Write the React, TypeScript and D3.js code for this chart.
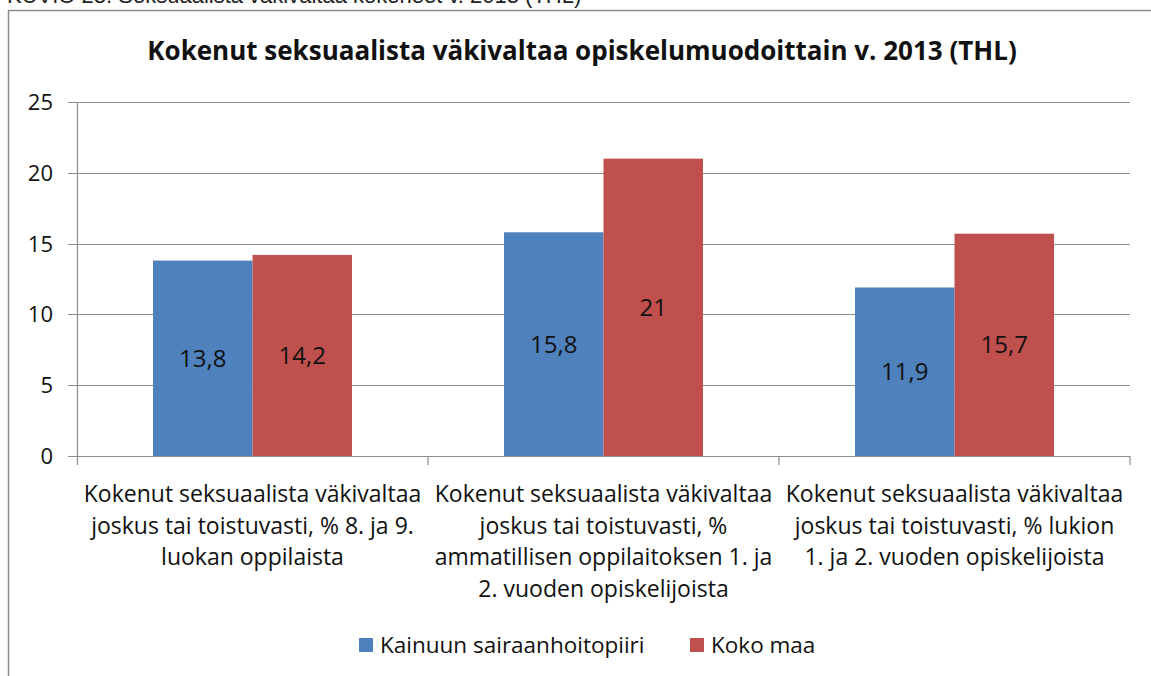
import React, { useEffect, useRef } from "react";
import * as d3 from "d3";

// chart data
const categories = [
  ["Kokenut seksuaalista väkivaltaa", "joskus tai toistuvasti, % 8. ja 9.", "luokan oppilaista"],
  ["Kokenut seksuaalista väkivaltaa", "joskus tai toistuvasti, %", "ammatillisen oppilaitoksen 1. ja", "2. vuoden opiskelijoista"],
  ["Kokenut seksuaalista väkivaltaa", "joskus tai toistuvasti, % lukion", "1. ja 2. vuoden opiskelijoista"],
];
const seriesNames = ["Kainuun sairaanhoitopiiri", "Koko maa"];
const kainuu = [13.8, 15.8, 11.9];
const kokoMaa = [14.2, 21, 15.7];
const yTicks = [0, 5, 10, 15, 20, 25];
const colors = ["#4F81BD", "#C0504D"];

const FONT = "'Open Sans', Lato, sans-serif";

export default function App() {
  const ref = useRef<SVGSVGElement>(null);

  useEffect(() => {
    const svg = d3.select(ref.current);
    svg.selectAll("*").remove();

    // caption above the chart frame (clipped at top in the source)
    svg.append("text")
      .attr("x", 7)
      .attr("y", 3)
      .attr("font-family", "'Liberation Sans', Arial, sans-serif")
      .attr("font-size", 22)
      .attr("fill", "#222")
      .text("KUVIO 23. Seksuaalista väkivaltaa kokeneet v. 2013 (THL)");

    // frame
    svg.append("rect")
      .attr("x", 8.5)
      .attr("y", 10.5)
      .attr("width", 1160)
      .attr("height", 700)
      .attr("fill", "#fff")
      .attr("stroke", "#8c8c8c")
      .attr("stroke-width", 1.5);

    svg.append("text")
      .attr("x", 582)
      .attr("y", 60)
      .attr("text-anchor", "middle")
      .attr("font-family", FONT)
      .attr("font-weight", "bold")
      .attr("font-size", 26)
      .attr("fill", "#111")
      .text("Kokenut seksuaalista väkivaltaa opiskelumuodoittain v. 2013 (THL)");

    var left = 77, right = 1130, top = 102, bottom = 456;

    var x0 = d3.scaleBand<number>()
      .domain(d3.range(categories.length))
      .range([left, right]);
    var x1 = d3.scaleBand<number>()
      .domain([0, 1])
      .range([0, 199]);
    var y = d3.scaleLinear().domain([0, 25]).range([bottom, top]);

    var g = svg.append("g");

    // gridlines + y tick marks
    g.selectAll("line.grid")
      .data(yTicks)
      .enter().append("line")
      .attr("x1", left - 9)
      .attr("x2", right)
      .attr("y1", function (d) { return Math.round(y(d)) + 0.5; })
      .attr("y2", function (d) { return Math.round(y(d)) + 0.5; })
      .attr("stroke", "#8e8e8e")
      .attr("stroke-width", 1.2);

    g.selectAll("text.ytick")
      .data(yTicks)
      .enter().append("text")
      .attr("x", 53)
      .attr("y", function (d) { return y(d); })
      .attr("dy", "0.36em")
      .attr("text-anchor", "end")
      .attr("font-family", FONT)
      .attr("font-size", 22)
      .attr("fill", "#111")
      .text(function (d) { return d; });

    // y axis line
    g.append("line")
      .attr("x1", left + 0.5).attr("x2", left + 0.5)
      .attr("y1", top).attr("y2", bottom + 9)
      .attr("stroke", "#8e8e8e")
      .attr("stroke-width", 1.2);

    // category tick marks
    var bounds = d3.range(categories.length + 1).map(function (i) {
      return i < categories.length ? (x0(i) as number) : right;
    });
    g.selectAll("line.xtick")
      .data(bounds.slice(1))
      .enter().append("line")
      .attr("x1", function (d) { return d; })
      .attr("x2", function (d) { return d; })
      .attr("y1", bottom)
      .attr("y2", bottom + 9)
      .attr("stroke", "#8e8e8e")
      .attr("stroke-width", 1.2);

    // bars
    var rows = categories.map(function (_c, i) {
      return [kainuu[i], kokoMaa[i]];
    });
    var groups = g.selectAll("g.cat")
      .data(rows)
      .enter().append("g")
      .attr("transform", function (_d, i) {
        return "translate(" + ((x0(i) as number) + (x0.bandwidth() - 199) / 2) + ",0)";
      });

    groups.selectAll("rect")
      .data(function (d) { return d; })
      .enter().append("rect")
      .attr("x", function (_d, j) { return x1(j) as number; })
      .attr("width", x1.bandwidth())
      .attr("y", function (d) { return y(d); })
      .attr("height", function (d) { return bottom - y(d); })
      .attr("fill", function (_d, j) { return colors[j]; });

    groups.selectAll("text")
      .data(function (d) { return d; })
      .enter().append("text")
      .attr("x", function (_d, j) { return (x1(j) as number) + x1.bandwidth() / 2; })
      .attr("y", function (d) { return (y(d) + bottom) / 2; })
      .attr("dy", "0.36em")
      .attr("text-anchor", "middle")
      .attr("font-family", FONT)
      .attr("font-size", 24)
      .attr("fill", "#111")
      .text(function (d) { return String(d).replace(".", ","); });

    // category labels
    categories.forEach(function (lines, i) {
      var cx = (x0(i) as number) + x0.bandwidth() / 2;
      var t = g.append("text")
        .attr("text-anchor", "middle")
        .attr("font-family", FONT)
        .attr("font-size", 23)
        .attr("fill", "#111");
      lines.forEach(function (s, k) {
        t.append("tspan")
          .attr("x", cx)
          .attr("y", 502 + k * 31.7)
          .text(s);
      });
    });

    // legend
    var legendX = [359, 690];
    var lg = svg.append("g");
    seriesNames.forEach(function (name, i) {
      lg.append("rect")
        .attr("x", legendX[i])
        .attr("y", 638)
        .attr("width", 14)
        .attr("height", 14)
        .attr("fill", colors[i]);
      lg.append("text")
        .attr("x", legendX[i] + 21)
        .attr("y", 653)
        .attr("font-family", FONT)
        .attr("font-size", 22.5)
        .attr("fill", "#111")
        .text(name);
    });
  }, []);

  return (
    <svg ref={ref} width={1151} height={676}
      style={{ position: "absolute", left: 0, top: 0, background: "#fff" }} />
  );
}
